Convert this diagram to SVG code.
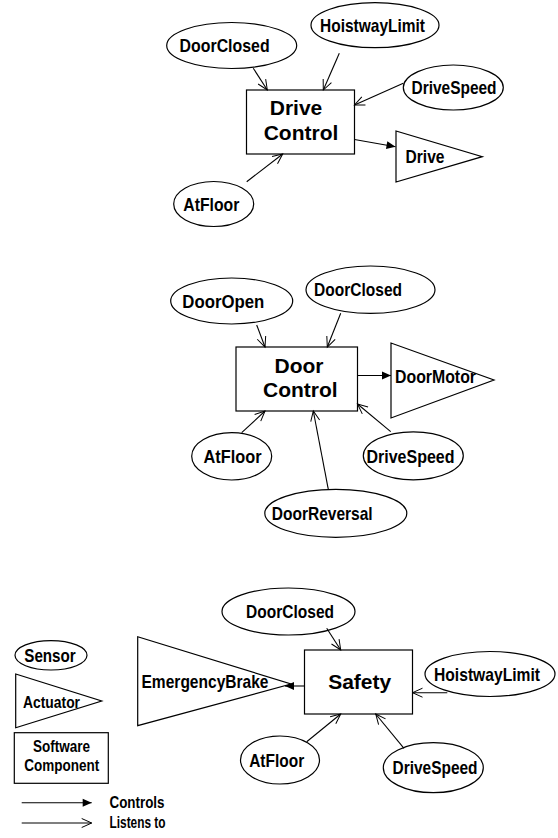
<svg xmlns="http://www.w3.org/2000/svg" width="558" height="838" viewBox="0 0 558 838">
<defs>
<marker id="filled" markerUnits="userSpaceOnUse" markerWidth="10" markerHeight="10" refX="9" refY="4" orient="auto" overflow="visible">
<path d="M0,0 L9,4 L0,8 Z" fill="#000"/>
</marker>
<marker id="open" markerUnits="userSpaceOnUse" markerWidth="12" markerHeight="12" refX="10" refY="4.5" orient="auto" overflow="visible">
<path d="M0,0 L10,4.5 L0,9" fill="none" stroke="#000" stroke-width="1"/>
</marker>
<style>
.shape{fill:#fff;stroke:#000;stroke-width:1.2}
.lbl{font-family:"Liberation Sans",Arial,sans-serif;font-weight:bold;font-size:18.5px;fill:#000}
.mid{text-anchor:middle}
.big{font-family:"Liberation Sans",Arial,sans-serif;font-weight:bold;font-size:21px;fill:#000;text-anchor:middle}
.conn line{stroke:#000;stroke-width:1.1}
.listen{marker-end:url(#open)}
.ctrl{marker-end:url(#filled)}
</style>
</defs>
<rect width="558" height="838" fill="#fff"/>

<!-- Top: Drive Control -->
<g id="dc-doorclosed"><ellipse class="shape" cx="231.7" cy="45.5" rx="65" ry="23"/><text class="lbl mid" x="224.6" y="52" textLength="90" lengthAdjust="spacingAndGlyphs">DoorClosed</text></g>
<g id="dc-hoistwaylimit"><ellipse class="shape" cx="375" cy="25.2" rx="64" ry="22.5"/><text class="lbl mid" x="372.5" y="32" textLength="105" lengthAdjust="spacingAndGlyphs">HoistwayLimit</text></g>
<g id="dc-drivespeed"><ellipse class="shape" cx="453.3" cy="87.5" rx="50" ry="22.5"/><text class="lbl mid" x="454" y="94" textLength="85" lengthAdjust="spacingAndGlyphs">DriveSpeed</text></g>
<g id="dc-atfloor"><ellipse class="shape" cx="213.7" cy="204" rx="40" ry="22.5"/><text class="lbl mid" x="211.3" y="210.5" textLength="56" lengthAdjust="spacingAndGlyphs">AtFloor</text></g>
<g id="drive-control"><rect class="shape" x="246.5" y="90" width="108" height="64"/><text class="big" x="296" y="115">Drive</text><text class="big" x="301" y="140">Control</text></g>
<g id="drive"><polygon class="shape" points="396,131 396,182 482.3,156.7"/><text class="lbl" x="405.5" y="163" textLength="39" lengthAdjust="spacingAndGlyphs">Drive</text></g>

<!-- Middle: Door Control -->
<g id="doc-dooropen"><ellipse class="shape" cx="231.7" cy="301" rx="61" ry="23"/><text class="lbl mid" x="223.3" y="307.5" textLength="82" lengthAdjust="spacingAndGlyphs">DoorOpen</text></g>
<g id="doc-doorclosed"><ellipse class="shape" cx="370.5" cy="289.7" rx="64.5" ry="23.7"/><text class="lbl mid" x="358" y="296" textLength="88" lengthAdjust="spacingAndGlyphs">DoorClosed</text></g>
<g id="doc-atfloor"><ellipse class="shape" cx="231.7" cy="456.3" rx="40" ry="23.7"/><text class="lbl mid" x="232.5" y="463" textLength="58" lengthAdjust="spacingAndGlyphs">AtFloor</text></g>
<g id="doc-drivespeed"><ellipse class="shape" cx="413.3" cy="455.8" rx="50" ry="24"/><text class="lbl mid" x="410.5" y="462.5" textLength="88" lengthAdjust="spacingAndGlyphs">DriveSpeed</text></g>
<g id="doc-doorreversal"><ellipse class="shape" cx="335.8" cy="513.3" rx="71" ry="24"/><text class="lbl mid" x="322.2" y="520" textLength="101" lengthAdjust="spacingAndGlyphs">DoorReversal</text></g>
<g id="door-control"><rect class="shape" x="236" y="347" width="121.5" height="64"/><text class="big" x="299" y="372.5">Door</text><text class="big" x="300.3" y="396.7">Control</text></g>
<g id="doormotor"><polygon class="shape" points="391,343 391,418 494,380"/><text class="lbl" x="395" y="383.3" textLength="81" lengthAdjust="spacingAndGlyphs">DoorMotor</text></g>

<!-- Bottom: Safety -->
<g id="s-doorclosed"><ellipse class="shape" cx="288.5" cy="611.5" rx="66.5" ry="23.5"/><text class="lbl mid" x="290" y="618" textLength="88" lengthAdjust="spacingAndGlyphs">DoorClosed</text></g>
<g id="s-hoistwaylimit"><ellipse class="shape" cx="490" cy="674" rx="65" ry="22.5"/><text class="lbl mid" x="487" y="680.5" textLength="106" lengthAdjust="spacingAndGlyphs">HoistwayLimit</text></g>
<g id="s-atfloor"><ellipse class="shape" cx="280" cy="760" rx="39.5" ry="24"/><text class="lbl mid" x="276.7" y="766.5" textLength="55" lengthAdjust="spacingAndGlyphs">AtFloor</text></g>
<g id="s-drivespeed"><ellipse class="shape" cx="433.3" cy="767.7" rx="50" ry="25"/><text class="lbl mid" x="435" y="774" textLength="85" lengthAdjust="spacingAndGlyphs">DriveSpeed</text></g>
<g id="safety"><rect class="shape" x="304.5" y="650" width="108" height="64"/><text class="big" x="359.7" y="689">Safety</text></g>
<g id="emergencybrake"><polygon class="shape" points="137.7,636.7 137.7,725.7 291,684"/><text class="lbl" x="141.5" y="687.5" textLength="127" lengthAdjust="spacingAndGlyphs">EmergencyBrake</text></g>

<!-- Legend -->
<g id="legend-sensor"><ellipse class="shape" cx="51" cy="655.3" rx="36" ry="14.7"/><text class="lbl mid" x="50" y="661.5" textLength="51.5" lengthAdjust="spacingAndGlyphs">Sensor</text></g>
<g id="legend-actuator"><polygon class="shape" points="15.7,674 15.7,727.7 101.7,701"/><text class="lbl" x="23" y="707.5" style="font-size:17px" textLength="57" lengthAdjust="spacingAndGlyphs">Actuator</text></g>
<g id="legend-software"><rect class="shape" x="14.3" y="732.7" width="94" height="50.6"/><text class="lbl mid" x="61.5" y="751.7" style="font-size:16px" textLength="57" lengthAdjust="spacingAndGlyphs">Software</text><text class="lbl mid" x="61.7" y="770.7" style="font-size:16px" textLength="75" lengthAdjust="spacingAndGlyphs">Component</text></g>
<g id="legend-controls"><line x1="21.7" y1="802.7" x2="91.7" y2="802.7" stroke="#000" stroke-width="1.1" marker-end="url(#filled)"/><text class="lbl" x="109.5" y="807.5" style="font-size:16px" textLength="55" lengthAdjust="spacingAndGlyphs">Controls</text></g>
<g id="legend-listens"><line x1="21.7" y1="823" x2="91.7" y2="823" stroke="#000" stroke-width="1.1" marker-end="url(#open)"/><text class="lbl" x="109.5" y="828" style="font-size:16px" textLength="56" lengthAdjust="spacingAndGlyphs">Listens to</text></g>

<!-- Connectors -->
<g id="connectors" class="conn">
<line class="listen" x1="253.3" y1="68.3" x2="267.3" y2="90"/>
<line class="listen" x1="339.3" y1="53.3" x2="323.3" y2="90"/>
<line class="listen" x1="403.3" y1="83.3" x2="354.5" y2="105"/>
<line class="listen" x1="246.7" y1="181.7" x2="282.7" y2="154"/>
<line class="ctrl" x1="354.5" y1="139.5" x2="395.5" y2="146.7"/>

<line class="listen" x1="256.7" y1="325" x2="265" y2="347"/>
<line class="listen" x1="340.7" y1="313.3" x2="327.3" y2="347"/>
<line class="ctrl" x1="357.5" y1="375.5" x2="391" y2="375.5"/>
<line class="listen" x1="241.7" y1="432.7" x2="265" y2="411"/>
<line class="listen" x1="328.3" y1="489.3" x2="313.3" y2="411"/>
<line class="listen" x1="390.7" y1="431.7" x2="357.5" y2="404"/>

<line class="listen" x1="326.7" y1="628.3" x2="340.7" y2="650"/>
<line class="listen" x1="447.3" y1="692.7" x2="412.5" y2="692.7"/>
<line class="listen" x1="306.7" y1="741.7" x2="340.7" y2="714"/>
<line class="listen" x1="404" y1="748.3" x2="375.7" y2="714"/>
<line class="ctrl" x1="304.5" y1="686" x2="285" y2="686"/>
</g>
</svg>
